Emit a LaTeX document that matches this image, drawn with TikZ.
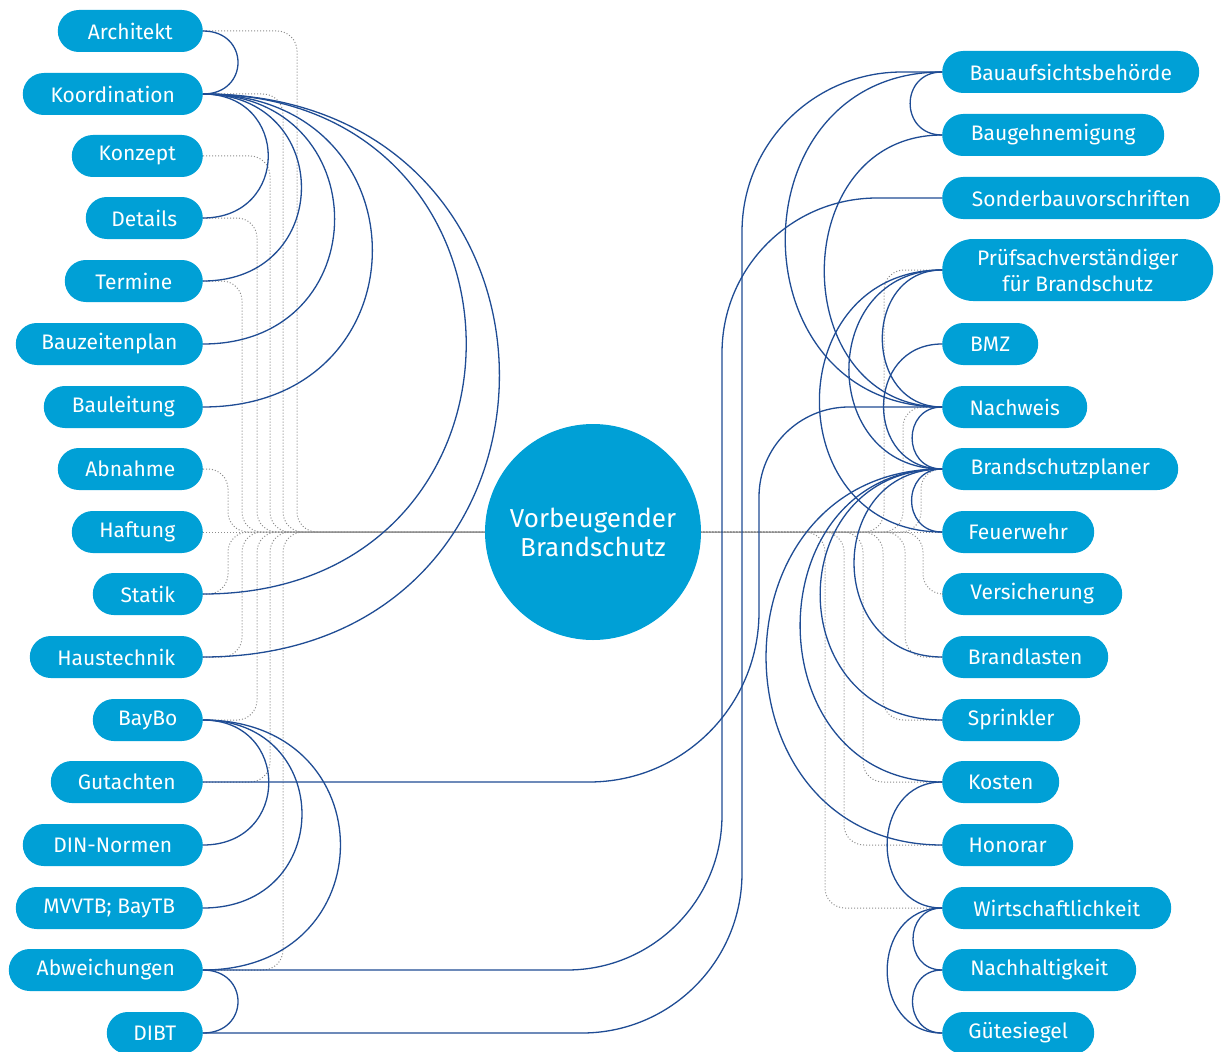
\documentclass[tikz,border=0pt]{standalone}
\usepackage{fontspec}
\setmainfont{Fira Sans}
\usepackage{xcolor}
\definecolor{bsblue}{RGB}{0,160,214}
\definecolor{bsnavy}{RGB}{31,76,148}

\begin{document}
\begin{tikzpicture}[x=1pt,y=1pt,
    dots/.style={draw=gray!90,line width=1pt,dash pattern=on 1pt off 2pt,rounded corners=20},
    bowl/.style={out=0,in=0,looseness=1.8},
    bowr/.style={out=180,in=180,looseness=1.6},
    line/.style={draw=bsnavy,line width=1.3pt}]
    \useasboundingbox (0,0) rectangle (1222,-1051);

    % centre
    \node[circle,fill=bsblue,text=white,minimum size=216,inner sep=0,align=center,
      font=\fontsize{26}{29}\selectfont] (vb) at (593,-532) {Vorbeugender\\Brandschutz};

    % left column
    \begin{scope}[every node/.style={fill=bsblue,text=white,rounded corners=21,minimum height=42,
        inner sep=0,anchor=east,font=\fontsize{21}{25}\selectfont}]
      \node[minimum width=145] (arch) at (203,-31) {Architekt};
      \node[minimum width=180] (koord) at (203,-94) {Koordination};
      \node[minimum width=131] (konz) at (203,-156) {Konzept};
      \node[minimum width=117] (det) at (203,-218) {Details};
      \node[minimum width=138] (term) at (203,-281) {Termine};
      \node[minimum width=187] (bzp) at (203,-344) {Bauzeitenplan};
      \node[minimum width=159] (bleit) at (203,-407) {Bauleitung};
      \node[minimum width=145] (abn) at (203,-469) {Abnahme};
      \node[minimum width=131] (haft) at (203,-532) {Haftung};
      \node[minimum width=110] (stat) at (203,-594) {Statik};
      \node[minimum width=173] (haus) at (203,-657) {Haustechnik};
      \node[minimum width=110] (baybo) at (203,-720) {BayBo};
      \node[minimum width=152] (gut) at (203,-782) {Gutachten};
      \node[minimum width=180] (din) at (203,-845) {DIN-Normen};
      \node[minimum width=187] (mvvtb) at (203,-908) {MVVTB; BayTB};
      \node[minimum width=194] (abw) at (203,-970) {Abweichungen};
      \node[minimum width=96] (dibt) at (203,-1033) {DIBT};
    \end{scope}

    % right column
    \begin{scope}[every node/.style={fill=bsblue,text=white,rounded corners=21,minimum height=42,
        inner sep=0,anchor=west,font=\fontsize{21}{25}\selectfont}]
      \node[minimum width=257] (baua) at (942,-72) {Bauaufsichtsbehörde};
      \node[minimum width=222] (baug) at (942,-135) {Baugehnemigung};
      \node[minimum width=278] (sond) at (942,-198) {Sonderbauvorschriften};
      \node[minimum width=271,minimum height=62,rounded corners=31,align=center,
        font=\fontsize{21}{26}\selectfont] (pruef) at (942,-270) {Prüfsachverständiger\\für Brandschutz};
      \node[minimum width=96] (bmz) at (942,-344) {BMZ};
      \node[minimum width=145] (nachw) at (942,-407) {Nachweis};
      \node[minimum width=236] (bsp) at (942,-469) {Brandschutzplaner};
      \node[minimum width=152] (feuer) at (942,-532) {Feuerwehr};
      \node[minimum width=180] (vers) at (942,-594) {Versicherung};
      \node[minimum width=166] (brandl) at (942,-657) {Brandlasten};
      \node[minimum width=138] (spr) at (942,-720) {Sprinkler};
      \node[minimum width=117] (kost) at (942,-782) {Kosten};
      \node[minimum width=131] (hon) at (942,-845) {Honorar};
      \node[minimum width=229] (wirt) at (942,-908) {Wirtschaftlichkeit};
      \node[minimum width=194] (nachh) at (942,-970) {Nachhaltigkeit};
      \node[minimum width=152] (guete) at (942,-1033) {Gütesiegel};
    \end{scope}

    % dotted links to the centre
    \draw[dots] (arch.east) -| (297,-532) -- (vb.west);
    \draw[dots] (koord.east) -| (283,-532) -- (vb.west);
    \draw[dots] (konz.east) -| (270,-532) -- (vb.west);
    \draw[dots] (det.east) -| (257,-532) -- (vb.west);
    \draw[dots] (term.east) -| (242,-532) -- (vb.west);
    \draw[dots] (abn.east) -| (228,-532) -- (vb.west);
    \draw[dots] (haft.east) -- (vb.west);
    \draw[dots] (stat.east) -| (228,-532) -- (vb.west);
    \draw[dots] (haus.east) -| (242,-532) -- (vb.west);
    \draw[dots] (baybo.east) -| (257,-532) -- (vb.west);
    \draw[dots] (gut.east) -| (270,-532) -- (vb.west);
    \draw[dots] (abw.east) -| (283,-532) -- (vb.west);

    \draw[dots] (pruef.west) -| (884,-532) -- (vb.east);
    \draw[dots] (nachw.west) -| (903,-532) -- (vb.east);
    \draw[dots] (bsp.west) -| (921,-532) -- (vb.east);
    \draw[dots] (feuer.west) -- (vb.east);
    \draw[dots] (vers.west) -| (923,-532) -- (vb.east);
    \draw[dots] (brandl.west) -| (905,-532) -- (vb.east);
    \draw[dots] (spr.west) -| (883,-532) -- (vb.east);
    \draw[dots] (kost.west) -| (863,-532) -- (vb.east);
    \draw[dots] (hon.west) -| (844,-532) -- (vb.east);
    \draw[dots] (wirt.west) -| (825,-532) -- (vb.east);

    % links on the left
    \begin{scope}[every edge/.style={line}]
      \path (arch.east) edge[bowl,looseness=1.9] (koord.east);
      \path (koord.east) edge[bowl] (det.east);
      \path (koord.east) edge[bowl] (term.east);
      \path (koord.east) edge[bowl] (bzp.east);
      \path (koord.east) edge[bowl,looseness=1.85] (bleit.east);
      \path (koord.east) edge[bowl] (stat.east);
      \path (koord.east) edge[bowl] (haus.east);
      \path (baybo.east) edge[bowl] (din.east);
      \path (baybo.east) edge[bowl] (mvvtb.east);
      \path (baybo.east) edge[bowl,looseness=1.88] (abw.east);
      \path (abw.east) edge[bowl,looseness=1.9] (dibt.east);
    \end{scope}

    % links across
    \draw[line,rounded corners=160] (dibt.east) -| (742,-550) |- (baua.west);
    \draw[line,rounded corners=155] (abw.east) -| (722,-550) |- (sond.west);
    \draw[line] (gut.east) -- (589,-782) arc[start angle=-90,end angle=0,radius=170]
      -- (759,-497) arc[start angle=180,end angle=90,radius=90] -- (nachw.west);

    % links on the right
    \begin{scope}[every edge/.style={line}]
      \path (baua.west) edge[bowr,looseness=1.73] (baug.west);
      \path (baua.west) edge[bowr] (nachw.west);
      \path (baug.west) edge[bowr,looseness=1.48] (nachw.west);
      \path (pruef.west) edge[bowr,looseness=1.49] (nachw.west);
      \path (pruef.west) edge[bowr] (bsp.west);
      \path (pruef.west) edge[bowr] (feuer.west);
      \path (bmz.west) edge[bowr] (bsp.west);
      \path (nachw.west) edge[bowr,looseness=1.65] (bsp.west);
      \path (bsp.west) edge[bowr,looseness=1.65] (feuer.west);
      \path (bsp.west) edge[bowr] (brandl.west);
      \path (bsp.west) edge[bowr,looseness=1.66] (spr.west);
      \path (bsp.west) edge[bowr,looseness=1.55] (kost.west);
      \path (bsp.west) edge[bowr] (hon.west);
      \path (kost.west) edge[bowr,looseness=1.49] (wirt.west);
      \path (wirt.west) edge[bowr] (nachh.west);
      \path (wirt.west) edge[bowr,looseness=1.5] (guete.west);
      \path (nachh.west) edge[bowr] (guete.west);
    \end{scope}
\end{tikzpicture}
\end{document}
